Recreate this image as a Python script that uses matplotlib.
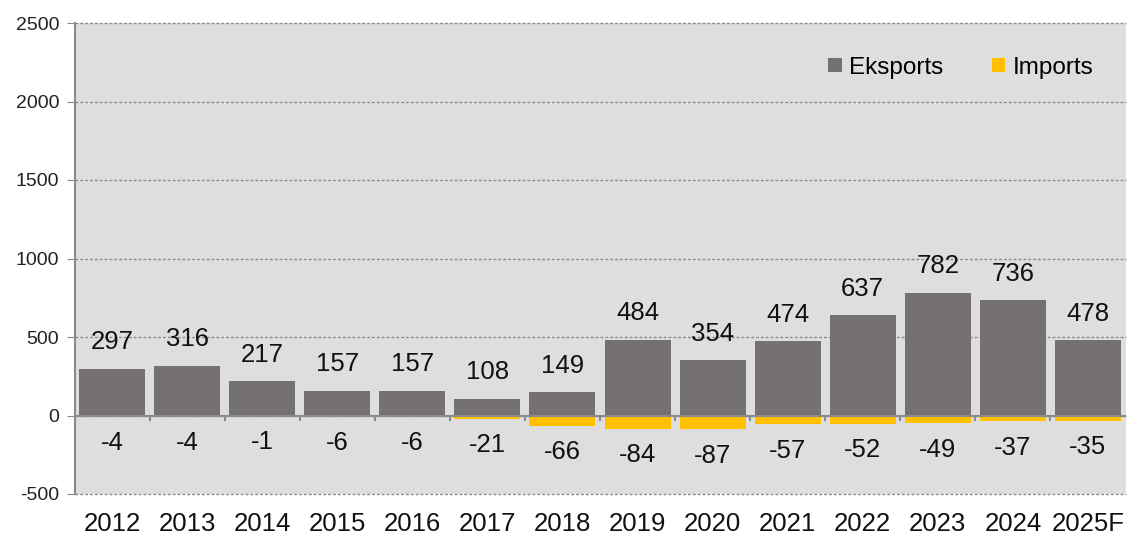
import matplotlib
matplotlib.use("Agg")
import matplotlib.pyplot as plt
import numpy as np

years = ["2012", "2013", "2014", "2015", "2016", "2017", "2018",
         "2019", "2020", "2021", "2022", "2023", "2024", "2025F"]
exports = [297, 316, 217, 157, 157, 108, 149, 484, 354, 474, 637, 782, 736, 478]
imports = [-4, -4, -1, -6, -6, -21, -66, -84, -87, -57, -52, -49, -37, -35]
yticks = [-500, 0, 500, 1000, 1500, 2000, 2500]

plt.rcParams['font.family'] = ['Liberation Sans', 'DejaVu Sans']

fig = plt.figure(figsize=(11.29, 5.35), dpi=100)
ax = fig.add_axes([74.5 / 1129, 41 / 535, (1125.5 - 74.5) / 1129, 471 / 535])
ax.set_facecolor("#dedede")

x = np.arange(len(years))
w = 0.88
ax.bar(x, exports, width=w, color="#757170", label="Eksports", zorder=3)
ax.bar(x, imports, width=w, color="#ffc000", label="Imports", zorder=3)

for xi, v in zip(x, exports):
    ax.annotate(str(v), (xi, v), xytext=(0, 19), textcoords="offset points",
                ha="center", va="center", fontsize=18.5, color="#111111")
for xi, v in zip(x, imports):
    ax.annotate(str(v), (xi, v), xytext=(0, -19), textcoords="offset points",
                ha="center", va="center", fontsize=18.5, color="#111111")

ax.set_xlim(-0.5, len(years) - 0.5)
ax.set_ylim(-500, 2500)
ax.set_yticks(yticks)
ax.set_yticklabels([str(t) for t in yticks], fontsize=14, color="#222222")
for t in yticks:
    ax.axhline(t, color="#8a8a8a", lw=1.0, ls=(0, (2, 1.5)), zorder=1, clip_on=False)
ax.tick_params(axis="y", length=6, color="#8a8a8a", pad=5)

# category axis drawn along zero with boundary ticks
ax.axhline(0, color="#8a8a8a", lw=1.5, zorder=4)
ax.set_xticks([])
for b in np.arange(0.5, len(years) - 0.5, 1.0):
    ax.plot([b, b], [0, -30], color="#8a8a8a", lw=1.5, zorder=4)
for xi, y in zip(x, years):
    ax.text(xi, -690, y, ha="center", va="center", fontsize=18.5, color="#111111")

for s in ["top", "right", "bottom"]:
    ax.spines[s].set_visible(False)
ax.spines["left"].set_color("#8a8a8a")
ax.spines["left"].set_linewidth(1.5)

leg = ax.legend(loc="upper right", bbox_to_anchor=(0.99, 0.975), ncol=2, frameon=False,
                fontsize=17.5, handlelength=0.55, handleheight=0.55, handletextpad=0.3,
                columnspacing=2.0)

fig.savefig("out.png", dpi=100)
